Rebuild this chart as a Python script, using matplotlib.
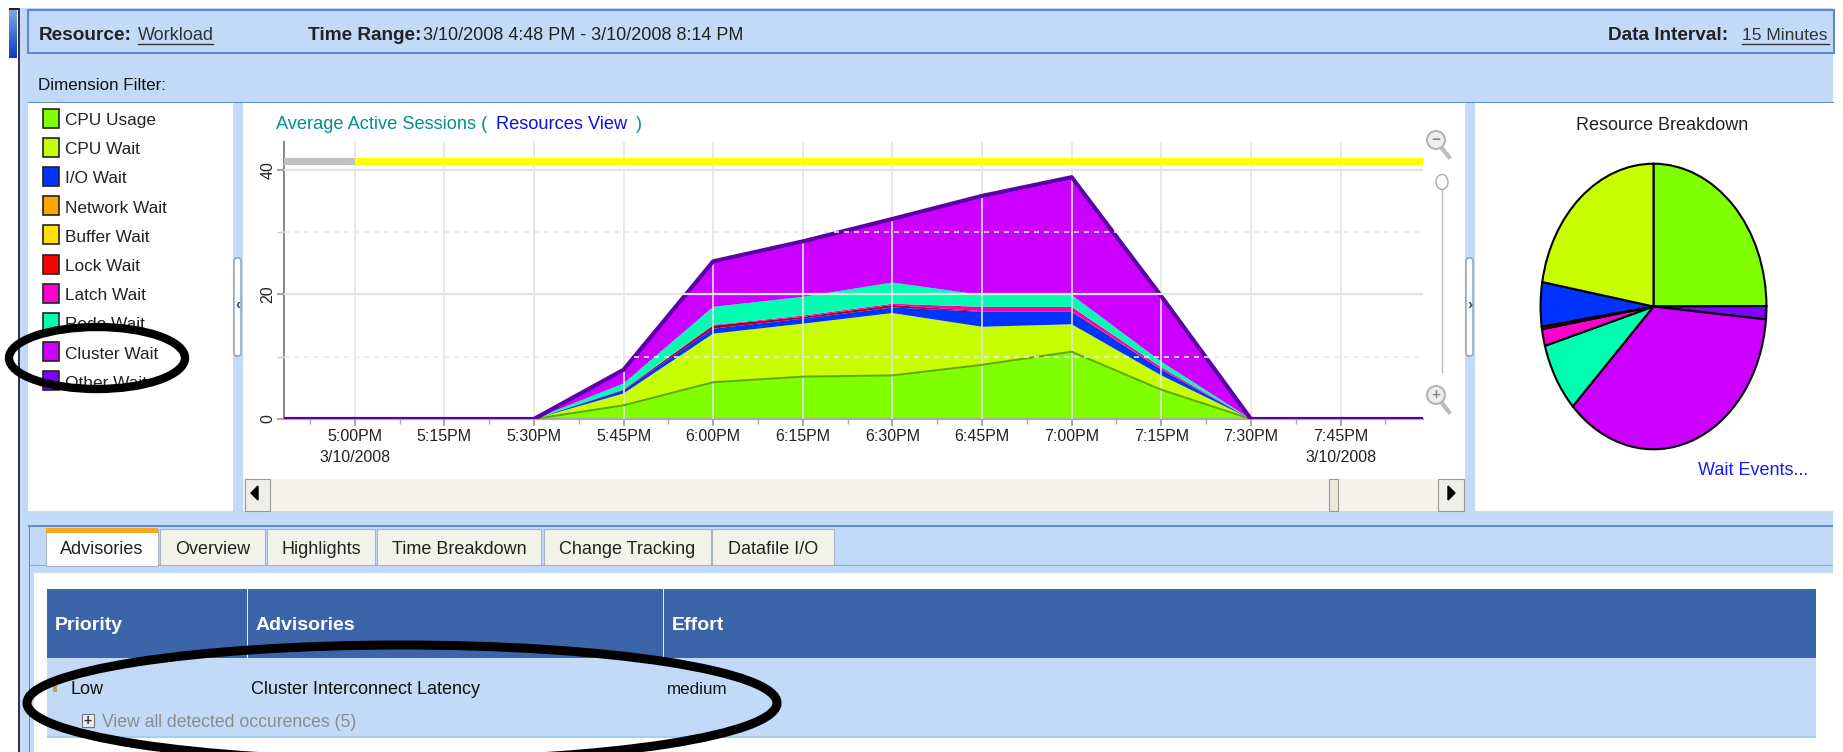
import numpy as np
import matplotlib
matplotlib.use("Agg")
import matplotlib.pyplot as plt
from matplotlib.patches import Rectangle, Ellipse, FancyBboxPatch

plt.rcParams['font.family'] = ['Liberation Sans', 'DejaVu Sans']

W, H = 1843, 752

# ---------- data ----------
categories = ['CPU Usage', 'CPU Wait', 'I/O Wait', 'Network Wait', 'Buffer Wait',
              'Lock Wait', 'Latch Wait', 'Redo Wait', 'Cluster Wait', 'Other Wait']
colors = ['#80ff00', '#c8ff00', '#0033ff', '#ffa500', '#ffe000',
          '#ff0000', '#ff00cc', '#00ffb0', '#cc00ff', '#8000ff']
chart_colors = ['#80ff00', '#c8ff00', '#0033ff', '#ffa500', '#ffe000',
                '#a00030', '#ff00a8', '#00ffb0', '#cc00ff', '#5c00a8']

# minutes after 5:00 PM, every 15 minutes
minutes = [-15, 0, 15, 30, 45, 60, 75, 90, 105, 120, 135, 150, 165, 180]
cpu_usage = [0, 0, 0, 0, 2.2, 5.9, 6.8, 7.0, 8.7, 10.8, 4.7, 0, 0, 0]
cpu_wait = [0, 0, 0, 0, 1.9, 7.8, 8.5, 10.0, 6.1, 4.4, 2.3, 0, 0, 0]
io_wait = [0, 0, 0, 0, 0.5, 0.8, 0.8, 0.9, 2.4, 2.0, 0.9, 0, 0, 0]
network_wait = [0] * 14
buffer_wait = [0] * 14
lock_wait = [0, 0, 0, 0, 0.1, 0.5, 0.3, 0.4, 0.1, 0.1, 0.1, 0, 0, 0]
latch_wait = [0, 0, 0, 0, 0.05, 0.1, 0.2, 0.2, 0.7, 0.7, 0.3, 0, 0, 0]
redo_wait = [0, 0, 0, 0, 0.95, 2.9, 3.0, 3.4, 1.9, 1.9, 0.9, 0, 0, 0]
cluster_wait = [0, 0, 0, 0, 1.9, 7.0, 8.6, 9.9, 15.6, 18.5, 10.2, 0, 0, 0]
other_wait = [0, 0, 0, 0, 0.3, 0.3, 0.3, 0.3, 0.3, 0.4, 0.3, 0, 0, 0]

tick_minutes = [0, 15, 30, 45, 60, 75, 90, 105, 120, 135, 150, 165]
minor_minutes = [-7.5, 7.5, 22.5, 37.5, 52.5, 67.5, 82.5, 97.5, 112.5, 127.5, 142.5, 157.5, 172.5]
tick_labels = ['5:00PM\n3/10/2008', '5:15PM', '5:30PM', '5:45PM', '6:00PM', '6:15PM',
               '6:30PM', '6:45PM', '7:00PM', '7:15PM', '7:30PM', '7:45PM\n3/10/2008']
y_ticks = [0, 20, 40]
y_minor = [10, 30]

pie_labels = ['CPU Usage', 'Other Wait', 'Cluster Wait', 'Redo Wait', 'Latch Wait',
              'Lock Wait', 'I/O Wait', 'CPU Wait']
pie_values = [25.0, 1.5, 36.3, 7.9, 1.9, 0.3, 5.0, 22.3]
pie_colors = ['#80ff00', '#8000ff', '#cc00ff', '#00ffb0', '#ff00cc', '#ff0000', '#0033ff', '#c8ff00']

tabs = ['Advisories', 'Overview', 'Highlights', 'Time Breakdown', 'Change Tracking', 'Datafile I/O']
tab_edges = [(46, 158), (160, 265), (267, 375), (377, 541), (544, 711), (712, 834)]

BLUE = '#c2d9f8'
BORDER = '#5f8ac8'
FS = 18 * 0.72  # 18 px font at dpi 100
FS_TICK = 16 * 0.72

fig = plt.figure(figsize=(W / 100, H / 100), dpi=100, facecolor='white')


def px_axes(l, t, r, b, **kw):
    return fig.add_axes([l / W, 1 - b / H, (r - l) / W, (b - t) / H], **kw)


# ---------- interface background ----------
ui = fig.add_axes([0, 0, 1, 1], zorder=0)
ui.set_xlim(0, W); ui.set_ylim(H, 0); ui.axis('off')


def rect(x0, y0, x1, y1, fc, ec='none', lw=0, z=1):
    ui.add_patch(Rectangle((x0, y0), x1 - x0, y1 - y0, fc=fc, ec=ec, lw=lw, zorder=z))


def txt(x, y, s, size=FS, color='#111111', ha='left', va='center', weight='normal', z=6, dy=2.5):
    return ui.text(x, y + dy, s, fontsize=size, color=color, ha=ha, va=va, fontweight=weight, zorder=z)


rect(19, 8, 1833, H, BLUE)
grad = np.linspace(0, 1, 40).reshape(-1, 1)
ui.imshow(grad, extent=(9, 17, 58, 9), aspect='auto', zorder=2,
          cmap=matplotlib.colors.LinearSegmentedColormap.from_list('g', ['#7fa8ea', '#0a3cc0']))
ui.set_xlim(0, W); ui.set_ylim(H, 0)
rect(9, 8, 19, 9.5, '#222222', z=3)
rect(17.5, 8, 19.5, H, '#333344', z=3)

# header bar
rect(28, 10, 1834, 53, BLUE, ec=BORDER, lw=1.5, z=2)
txt(39, 33, 'Resource:', size=19 * 0.72, weight='bold', color='#222222')
txt(138, 33, 'Workload', color='#333333')
ui.plot([138, 213], [44, 44], color='#333333', lw=1, zorder=5)
txt(308, 33, 'Time Range:', size=19 * 0.72, weight='bold', color='#222222')
txt(423, 33, '3/10/2008 4:48 PM - 3/10/2008 8:14 PM', color='#222222')
txt(1608, 33, 'Data Interval:', size=19 * 0.72, weight='bold', color='#222222')
txt(1742, 33, '15 Minutes', size=17.5 * 0.72, color='#333333')
ui.plot([1742, 1829], [44, 44], color='#333333', lw=1, zorder=5)
txt(38, 83, 'Dimension Filter:', size=17 * 0.72)

# upper panels
rect(28, 102, 1834, 103, BORDER, z=3)
rect(28, 103, 233, 511, 'white', z=2)
rect(243, 103, 1465, 511, 'white', z=2)
rect(1475, 103, 1833, 511, 'white', z=2)

# legend
for i, (name, c) in enumerate(zip(categories, colors)):
    yc = 118 + i * 29.2
    rect(43, yc - 9.5, 58.5, yc + 9.5, c, ec='#222222', lw=1.2, z=4)
    txt(65, yc, name, size=17.3 * 0.72, color='#222222')

# collapse handles
for x0, mark in ((234, '\u2039'), (1466, '\u203a')):
    ui.add_patch(FancyBboxPatch((x0, 258), 7, 98, boxstyle='round,pad=0,rounding_size=3',
                                fc='white', ec='#8a9ab0', lw=1, zorder=4))
    txt(x0 + 3.5, 305, mark, size=11, color='#2a4d80', ha='center', weight='bold', dy=0)

# chart title
txt(276, 122, 'Average Active Sessions (', size=18.3 * 0.72, color='#008f8f')
txt(496, 122, 'Resources View', size=18.3 * 0.72, color='#1010e0')
txt(636, 122, ')', color='#008f8f')

# zoom control
for yc, sign in ((140, '\u2212'), (395, '+')):
    ui.plot([1441, 1449], [yc + 7, yc + 17], color='#b8bcc4', lw=3, zorder=4)
    ui.add_patch(Ellipse((1436, yc), 18, 18, fc='#eeeeee', ec='#b0b4bc', lw=1.5, zorder=5))
    txt(1436, yc, sign, size=11, color='#888888', ha='center', weight='bold', z=7, dy=0)
ui.plot([1442, 1442], [182, 372], color='#b8bcc4', lw=1, zorder=4)
ui.add_patch(Ellipse((1442, 182), 12, 15, fc='white', ec='#a8acb4', lw=1, zorder=5))

# scrollbar
rect(243, 479, 1465, 511, '#f4f3ec', z=3)
rect(245, 479, 270, 511, '#f0efe6', ec='#9a9a90', lw=0.8, z=4)
rect(1438, 479, 1464, 511, '#f0efe6', ec='#9a9a90', lw=0.8, z=4)
rect(1329, 479, 1338, 511, '#ece9dc', ec='#a09a88', lw=0.8, z=4)
ui.fill([258, 258, 251], [486, 500, 493], color='black', zorder=5)
ui.fill([1448, 1448, 1455], [486, 500, 493], color='black', zorder=5)

# lower panel
rect(28, 525, 1833, 526.5, BORDER, z=2)
rect(29, 526, 30, H, BORDER, z=2)
rect(30, 565, 1833, 566, '#8fa6c4', z=2)
rect(34, 573, 1833, H, 'white', z=2)
for i, (name, (a, b)) in enumerate(zip(tabs, tab_edges)):
    tab_top = 529
    rect(a, tab_top, b, 565 + (1 if i == 0 else 0), 'white' if i == 0 else '#f2f2ea',
         ec='#a8b4c4', lw=0.8, z=3)
    if i == 0:
        rect(a, tab_top - 1, b, tab_top + 4, '#f5a623', z=4)
    txt((a + b) / 2, 547, name, ha='center', color='#222222')

# table
rect(47, 589, 1816, 658, '#3c64a8', z=3)
rect(47, 658, 1816, 737, BLUE, z=3)
rect(47, 736, 1816, 738, '#a6cdf2', z=3)
for x in (247, 663):
    rect(x - 0.5, 589, x + 0.5, 658, '#e8eef8', z=4)
for x, s in ((55, 'Priority'), (256, 'Advisories'), (672, 'Effort')):
    txt(x, 623, s, size=19.5 * 0.72, color='white', weight='bold')
rect(53, 682, 57, 692, '#c0a050', z=4)
txt(71, 687, 'Low')
txt(251, 687, 'Cluster Interconnect Latency')
txt(667, 687, 'medium', size=17 * 0.72)
rect(82, 714, 94, 727, '#e8eef4', ec='#777777', lw=0.8, z=4)
txt(88, 720.5, '+', size=10, color='#333333', ha='center', weight='bold', dy=0)
txt(102, 720, 'View all detected occurences (5)', size=17.6 * 0.72, color='#8c8c8c')

# pie captions
txt(1662, 123, 'Resource Breakdown', ha='center', color='#222222')
txt(1698, 468, 'Wait Events...', color='#1a1aee')

# ---------- stacked area chart ----------
ax = px_axes(283.6, 141.7, 1423, 419, zorder=3, facecolor='none')
x = np.array(minutes, dtype=float)
stack = [cpu_usage, cpu_wait, io_wait, network_wait, buffer_wait,
         lock_wait, latch_wait, redo_wait, cluster_wait, other_wait]
ax.stackplot(x, *stack, colors=chart_colors, labels=categories, lw=0, zorder=2)
ax.plot(x, cpu_usage, color='#5fa800', lw=1.4, zorder=3)
ax.plot(x, np.sum(stack, axis=0), color='#5c00a8', lw=3, zorder=3)

ax.set_xlim(-11.9, 178.8)
ax.set_ylim(0, 44.5)
ax.set_xticks(tick_minutes)
ax.set_xticklabels(tick_labels, fontsize=FS_TICK, color='#222222', linespacing=1.5)
ax.set_xticks(minor_minutes, minor=True)
ax.set_yticks(y_ticks)
ax.set_yticklabels(y_ticks, fontsize=FS_TICK, color='#222222', rotation=90, va='center')
ax.set_yticks(y_minor, minor=True)
ax.tick_params(axis='x', which='major', length=5, width=1.2, color='#999999', pad=2)
ax.tick_params(axis='x', which='minor', length=3.5, width=1, color='#aaaaaa')
ax.tick_params(axis='y', which='major', length=5, width=1.2, color='#999999', pad=1)
ax.tick_params(axis='y', which='minor', length=5, width=1, color='#cccccc')
ax.grid(True, axis='x', which='major', color='#e4e4e4', lw=1.2, zorder=4)
ax.set_axisbelow(False)
for v in y_ticks[1:]:
    ax.axhline(v, color='#e4e4e4', lw=1.6, zorder=4)
for v in y_minor:
    ax.axhline(v, color='#e8e8e8', lw=1.2, ls=(0, (3, 3)), zorder=4)
for s in ('top', 'right'):
    ax.spines[s].set_visible(False)
ax.spines['left'].set_color('#888888'); ax.spines['left'].set_linewidth(1.4)
ax.spines['bottom'].set_color('#aaaaaa'); ax.spines['bottom'].set_linewidth(1.6)

# status bar along the top of the chart
ax.barh(41.3, 11.9, height=1.05, left=-11.9, color='#c0c0c0', zorder=5)
ax.barh(41.3, 178.8, height=1.05, left=0, color='#ffff00', zorder=5)

# ---------- pie ----------
pax = px_axes(1540, 163, 1767, 450, zorder=3, facecolor='none')
pax.pie(pie_values, colors=pie_colors, startangle=90, counterclock=False, radius=1.0,
        wedgeprops=dict(edgecolor='black', linewidth=1.5))
pax.set_aspect('auto')
pax.set_xlim(-1.005, 1.005); pax.set_ylim(-1.005, 1.005)

# ---------- hand-drawn annotation ellipses ----------
top = fig.add_axes([0, 0, 1, 1], zorder=10, facecolor='none')
top.set_xlim(0, W); top.set_ylim(H, 0); top.axis('off')
top.add_patch(Ellipse((97, 358), 176, 62, fc='none', ec='black', lw=6))
top.add_patch(Ellipse((402, 703), 750, 116, fc='none', ec='black', lw=6.5))

fig.savefig('out.png', dpi=100)
